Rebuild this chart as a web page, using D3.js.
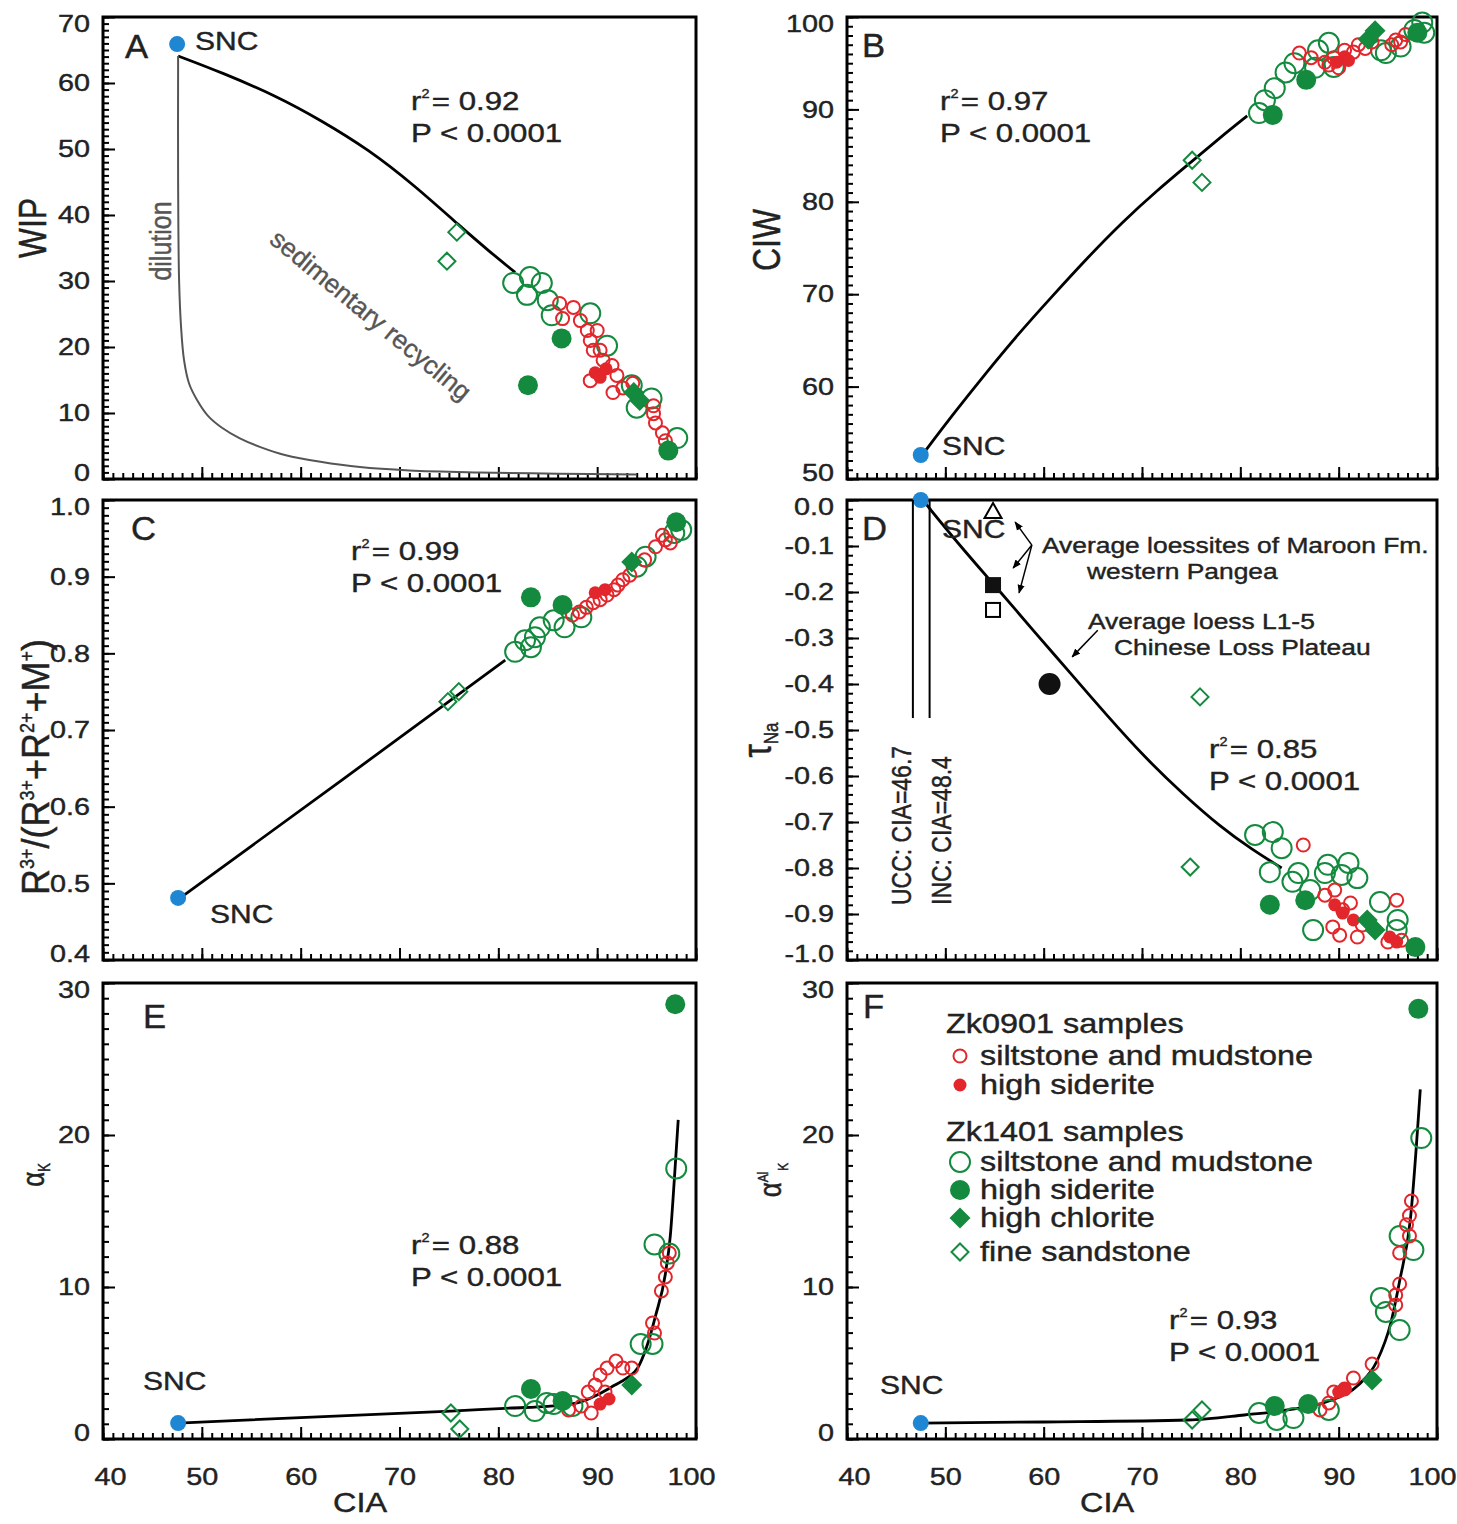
<!DOCTYPE html>
<html>
<head>
<meta charset="utf-8">
<script src="https://cdn.jsdelivr.net/npm/d3@7"></script>
<style>
  html, body { margin: 0; padding: 0; background: #fff; }
  svg { display: block; font-family: "Liberation Sans", Arial, sans-serif; }
</style>
</head>
<body>
<svg id="chart" width="1457" height="1524"></svg>
<script>
// ---- tick labels ----
const ciaTicks = [40, 50, 60, 70, 80, 90, 100];
const wipTicks = [0, 10, 20, 30, 40, 50, 60, 70];
const ciwTicks = [50, 60, 70, 80, 90, 100];
const ratioTicks = [0.4, 0.5, 0.6, 0.7, 0.8, 0.9, 1.0];
const tauTicks = [0, -0.1, -0.2, -0.3, -0.4, -0.5, -0.6, -0.7, -0.8, -0.9, -1.0];
const alphaTicks = [0, 10, 20, 30];

// ---- A: WIP vs CIA ----
const sncA = [47.5, 65.9];
const fitA = [[47.6, 64.1], [52, 61.6], [57.6, 58.0], [62, 54.4], [66.9, 49.9], [71.5, 44.5], [76.2, 38.2], [79, 34.6], [81.7, 31.3]];
const dilutionA = [[47.6, 64.1], [47.6, 45], [47.7, 30], [47.9, 23], [48.2, 18], [48.7, 14.5], [49.5, 12], [50.6, 9.6], [52, 7.8], [53.8, 6.2], [56, 4.8], [58.5, 3.6], [62, 2.6], [66, 1.8], [71, 1.3], [78, 1.0], [86, 0.8], [94, 0.7]];
const greenOpenA = [[81.5, 29.7], [83.2, 30.6], [82.9, 27.9], [84.4, 29.7], [85.0, 27.1], [85.4, 24.8], [89.3, 25.1], [91.0, 20.2], [93.5, 14.2], [94.0, 10.8], [95.5, 12.2], [98.1, 6.2]];
const redOpenA = [[86.2, 26.6], [87.6, 26.0], [86.5, 24.3], [88.3, 24.0], [89.0, 22.5], [90.0, 22.5], [89.3, 21.0], [89.6, 19.5], [90.3, 19.5], [90.6, 18.0], [91.5, 17.2], [92.0, 15.7], [91.6, 13.1], [92.6, 13.8], [93.6, 14.5], [89.3, 14.9], [95.7, 11.1], [95.7, 9.9], [95.9, 8.5], [96.6, 7.0], [96.9, 5.8]];
const redFillA = [[89.8, 16.1], [90.3, 15.4], [90.9, 16.7]];
const greenFillA = [[83.0, 14.2], [86.4, 21.3], [97.2, 4.3]];
const chloriteA = [[93.7, 13.1], [94.3, 11.9]];
const sandA = [[74.8, 33.0], [75.8, 37.4]];

// ---- B: CIW vs CIA ----
const sncB = [47.5, 52.6];
const fitB = [[47.5, 52.4], [51, 57.3], [54, 61.3], [57.5, 65.8], [60.8, 69.7], [64.5, 74.0], [68, 77.8], [71.5, 81.2], [75.1, 84.4], [78, 87.0], [80.7, 89.3]];
const greenOpenB = [[81.9, 89.6], [82.5, 91.0], [83.5, 92.3], [84.6, 94.0], [85.5, 95.0], [87.9, 96.4], [89.0, 97.2], [89.5, 94.6], [87.6, 94.5], [94.3, 96.4], [94.8, 96.1], [96.3, 96.8], [97.7, 98.6], [98.5, 99.4], [98.7, 98.3]];
const redOpenB = [[86.0, 96.1], [87.2, 95.6], [88.6, 95.1], [89.5, 95.6], [90.6, 96.4], [91.5, 96.2], [92.0, 97.0], [92.7, 96.6], [93.4, 97.3], [95.4, 97.0], [95.8, 97.5], [96.3, 97.3], [96.8, 98.1], [89.0, 94.8], [90.0, 94.5]];
const redFillB = [[89.8, 95.1], [90.6, 95.7], [91.0, 95.3]];
const greenFillB = [[83.3, 89.4], [86.7, 93.2], [98.0, 98.3]];
const chloriteB = [[93.0, 97.6], [93.7, 98.5]];
const sandB = [[75.1, 84.5], [76.1, 82.1]];

// ---- C: R3+/(R3+ + R2+ + M+) vs CIA ----
const sncC = [47.6, 0.481];
const fitC = [[47.6, 0.479], [64.2, 0.635], [80.7, 0.791]];
const greenOpenC = [[81.7, 0.802], [82.7, 0.817], [83.3, 0.808], [83.7, 0.821], [84.2, 0.834], [85.6, 0.843], [86.7, 0.834], [88.4, 0.847], [94.0, 0.913], [94.9, 0.926], [97.8, 0.957], [98.5, 0.961]];
const redOpenC = [[87.5, 0.850], [88.2, 0.854], [88.9, 0.860], [89.6, 0.866], [90.3, 0.870], [91.0, 0.876], [91.7, 0.883], [92.1, 0.889], [92.6, 0.896], [93.3, 0.902], [94.8, 0.922], [95.9, 0.939], [96.6, 0.954], [96.9, 0.948], [97.4, 0.944]];
const redFillC = [[89.8, 0.879], [90.8, 0.883]];
const greenFillC = [[83.3, 0.873], [86.5, 0.863], [98.0, 0.971]];
const chloriteC = [[93.5, 0.919]];
const sandC = [[74.9, 0.737], [76.0, 0.750]];

// ---- D: tau Na vs CIA ----
const sncD = [47.5, 0];
const fitD = [[47.7, 0], [51.5, -0.1], [55.2, -0.19], [59, -0.285], [62.7, -0.376], [66.5, -0.47], [70.3, -0.56], [74.2, -0.64], [78.0, -0.711], [81.2, -0.76], [84.2, -0.8]];
const greenOpenD = [[81.5, -0.728], [83.3, -0.722], [84.2, -0.757], [83.0, -0.809], [85.3, -0.830], [85.9, -0.811], [88.6, -0.811], [88.9, -0.793], [91.0, -0.789], [90.3, -0.815], [91.9, -0.822], [87.1, -0.848], [87.4, -0.935], [94.2, -0.874], [96.0, -0.913], [95.9, -0.935]];
const redOpenD = [[86.4, -0.750], [88.6, -0.859], [89.6, -0.848], [89.4, -0.928], [90.1, -0.946], [90.4, -0.891], [91.2, -0.876], [91.9, -0.950], [92.4, -0.924], [95.0, -0.961], [95.9, -0.870], [96.4, -0.957]];
const redFillD = [[89.6, -0.880], [90.4, -0.898], [91.5, -0.913], [95.2, -0.950], [95.9, -0.961]];
const greenFillD = [[83.0, -0.880], [86.6, -0.870], [97.8, -0.972]];
const chloriteD = [[92.9, -0.913], [93.7, -0.935]];
const sandD = [[74.9, -0.798], [75.9, -0.428]];
const maroonAvg = [[54.85, -0.026], [54.85, -0.185], [54.85, -0.239]]; // triangle, filled square, open square
const loessAvg = [60.6, -0.40];
const referenceCIA = [46.7, 48.4]; // UCC, INC
const referenceTauEnd = -0.474;

// ---- E: alpha K vs CIA ----
const sncE = [47.6, 1.05];
const fitE = [[47.6, 1.05], [75.2, 1.84], [81.4, 2.04], [85, 2.15], [88.0, 2.37], [90, 2.9], [91.8, 3.55], [93, 4.0], [94.1, 4.67], [95.0, 6.05], [95.9, 8.09], [96.9, 10.86], [97.4, 13.36], [97.8, 17.0], [98.2, 21.0]];
const greenOpenE = [[81.7, 2.17], [83.7, 1.84], [84.9, 2.37], [85.6, 2.30], [87.5, 2.17], [94.4, 6.25], [95.6, 6.25], [95.8, 12.8], [97.3, 12.2], [98.0, 17.8]];
const redOpenE = [[87.1, 1.91], [88.4, 2.17], [89.1, 3.09], [89.4, 1.71], [89.8, 3.55], [90.3, 4.21], [90.8, 3.09], [91.0, 4.67], [91.9, 5.13], [92.6, 4.67], [93.5, 4.67], [95.6, 7.63], [95.8, 6.97], [96.5, 9.74], [96.9, 10.66], [97.1, 11.58], [97.3, 12.24]];
const redFillE = [[90.3, 2.30], [91.2, 2.63]];
const greenFillE = [[83.3, 3.29], [86.5, 2.5], [97.9, 28.6]];
const chloriteE = [[93.5, 3.55]];
const sandE = [[75.2, 1.71], [76.1, 0.66]];

// ---- F: alpha Al K vs CIA ----
const sncF = [47.5, 1.05];
const fitF = [[47.5, 1.05], [60, 1.12], [74.7, 1.25], [80.4, 1.58], [84.8, 1.91], [89.0, 2.5], [92.0, 3.55], [93.9, 5.13], [95.3, 7.63], [96.2, 10.4], [97.3, 14.5], [98.3, 23.0]];
const greenOpenF = [[81.9, 1.71], [83.7, 1.25], [85.4, 1.38], [89.0, 1.91], [94.3, 9.28], [94.8, 8.36], [96.2, 7.17], [96.2, 13.36], [97.6, 12.43], [98.4, 19.8]];
const redOpenF = [[88.1, 1.91], [89.0, 2.37], [89.5, 3.09], [90.6, 3.29], [91.5, 4.01], [93.4, 4.93], [95.8, 8.82], [95.8, 9.47], [96.2, 10.2], [96.2, 12.24], [96.9, 14.1], [97.2, 13.36], [97.2, 14.7], [97.4, 15.66]];
const redFillF = [[90.0, 3.09], [90.6, 3.29]];
const greenFillF = [[83.5, 2.17], [86.9, 2.30], [98.1, 28.3]];
const chloriteF = [[93.4, 3.88]];
const sandF = [[75.1, 1.25], [76.1, 1.91]];

// ---- legend ----
const legendLabels = ["Zk0901 samples", "siltstone and mudstone", "high siderite", "Zk1401 samples", "siltstone and mudstone", "high siderite", "high chlorite", "fine sandstone"];
const legendSymbols = [null, "redOpen", "redFill", null, "greenOpen", "greenFill", "chlorite", "sand"];

// ---- look ----
const GREEN = "#138a3e", RED = "#e2262c", BLUE = "#1e86d2", INK = "#222", GREY = "#555";
const SX = 1.2; // the figure is drawn a bit wide
const cols = [{ left: 103, right: 696 }, { left: 847, right: 1437 }];
const rows = [{ top: 17, bottom: 479 }, { top: 500, bottom: 960 }, { top: 983, bottom: 1439 }];

const svg = d3.select("#chart");
svg.append("rect").attr("width", 1457).attr("height", 1524).attr("fill", "#fff");
svg.append("defs").append("marker")
    .attr("id", "arrowhead")
    .attr("viewBox", "0 0 10 10")
    .attr("refX", 9).attr("refY", 5)
    .attr("markerWidth", 6).attr("markerHeight", 6)
    .attr("orient", "auto")
    .append("path").attr("d", "M0,1L10,5L0,9z").attr("fill", "#000");

function label(g, x, y, size, parts, o = {}) {
    const fill = o.fill || INK;
    const t = g.append("text")
        .attr("transform", `translate(${x},${y}) scale(${o.sx ?? SX},1)` + (o.rotate ? ` rotate(${o.rotate})` : ""))
        .attr("font-size", size)
        .attr("fill", fill)
        .attr("stroke", fill).attr("stroke-width", 0.4)
        .attr("text-anchor", o.anchor || "start");
    [].concat(parts).forEach(p => {
        if (typeof p === "string") p = { t: p };
        const s = t.append("tspan").text(p.t);
        if (p.size) s.attr("font-size", p.size);
        if (p.dy) s.attr("dy", p.dy);
        if (p.dx) s.attr("dx", p.dx);
    });
    return t;
}

function styleAxis(sel) {
    sel.select(".domain").remove();
    sel.attr("font-family", null).attr("font-size", 24);
    sel.selectAll("line").attr("stroke", "#000").attr("stroke-width", 2);
    sel.selectAll("text")
        .attr("fill", INK)
        .attr("stroke", INK).attr("stroke-width", 0.4)
        .attr("transform", `scale(${SX},1)`)
        .attr("x", function() {
            const v = this.getAttribute("x");
            return v == null ? null : +v / SX;
        });
}

const diamond = s => `M0,${-s}L${s},0L0,${s}L${-s},0Z`;

function symbol(g, type, cx, cy) {
    if (type === "redOpen") g.append("circle").attr("cx", cx).attr("cy", cy).attr("r", 6.5).attr("fill", "none").attr("stroke", RED).attr("stroke-width", 2);
    if (type === "redFill") g.append("circle").attr("cx", cx).attr("cy", cy).attr("r", 6.5).attr("fill", RED);
    if (type === "greenOpen") g.append("circle").attr("cx", cx).attr("cy", cy).attr("r", 10).attr("fill", "none").attr("stroke", GREEN).attr("stroke-width", 2);
    if (type === "greenFill") g.append("circle").attr("cx", cx).attr("cy", cy).attr("r", 10).attr("fill", GREEN);
    if (type === "chlorite") g.append("path").attr("transform", `translate(${cx},${cy})`).attr("d", diamond(10.5)).attr("fill", GREEN);
    if (type === "sand") g.append("path").attr("transform", `translate(${cx},${cy})`).attr("d", diamond(8.5)).attr("fill", "none").attr("stroke", GREEN).attr("stroke-width", 2);
}

function r2Label(g, x, y, r2) {
    label(g, x, y, 26, [{ t: "r" }, { t: "2", size: 12, dy: -12 }, { t: "= " + r2, dy: 12, dx: 2 }]);
    label(g, x, y + 32, 26, "P < 0.0001");
}

const panels = [
    { key: "A", col: 0, row: 0, domain: [0, 70], ticks: wipTicks, minor: 1, fmt: d => d, curve: d3.curveBasis,
      snc: sncA, fit: fitA, greenOpen: greenOpenA, redOpen: redOpenA, redFill: redFillA, greenFill: greenFillA, chlorite: chloriteA, sand: sandA,
      letter: [125, 58], sncText: [195, 50], r2: "0.92", r2At: [411, 110] },
    { key: "B", col: 1, row: 0, domain: [50, 100], ticks: ciwTicks, minor: 1, fmt: d => d, curve: d3.curveBasis,
      snc: sncB, fit: fitB, greenOpen: greenOpenB, redOpen: redOpenB, redFill: redFillB, greenFill: greenFillB, chlorite: chloriteB, sand: sandB,
      letter: [862, 57], sncText: [942, 455], r2: "0.97", r2At: [940, 110] },
    { key: "C", col: 0, row: 1, domain: [0.4, 1.0], ticks: ratioTicks, minor: 0.01, fmt: d => d.toFixed(1), curve: d3.curveNatural,
      snc: sncC, fit: fitC, greenOpen: greenOpenC, redOpen: redOpenC, redFill: redFillC, greenFill: greenFillC, chlorite: chloriteC, sand: sandC,
      letter: [131, 540], sncText: [210, 923], r2: "0.99", r2At: [351, 560] },
    { key: "D", col: 1, row: 1, domain: [-1.0, 0], ticks: tauTicks, minor: 0.02, fmt: d => d.toFixed(1), curve: d3.curveBasis,
      snc: sncD, fit: fitD, greenOpen: greenOpenD, redOpen: redOpenD, redFill: redFillD, greenFill: greenFillD, chlorite: chloriteD, sand: sandD,
      letter: [862, 540], sncText: [942, 538], r2: "0.85", r2At: [1209, 758] },
    { key: "E", col: 0, row: 2, domain: [0, 30], ticks: alphaTicks, minor: 1, fmt: d => d, curve: d3.curveMonotoneX,
      snc: sncE, fit: fitE, greenOpen: greenOpenE, redOpen: redOpenE, redFill: redFillE, greenFill: greenFillE, chlorite: chloriteE, sand: sandE,
      letter: [143, 1028], sncText: [143, 1390], r2: "0.88", r2At: [411, 1254], xLabels: true },
    { key: "F", col: 1, row: 2, domain: [0, 30], ticks: alphaTicks, minor: 1, fmt: d => d, curve: d3.curveMonotoneX,
      snc: sncF, fit: fitF, greenOpen: greenOpenF, redOpen: redOpenF, redFill: redFillF, greenFill: greenFillF, chlorite: chloriteF, sand: sandF,
      letter: [863, 1018], sncText: [880, 1394], r2: "0.93", r2At: [1169, 1329], xLabels: true }
];

const scales = {};

panels.forEach(p => {
    const { left, right } = cols[p.col];
    const { top, bottom } = rows[p.row];
    const g = svg.append("g").attr("class", "panel panel-" + p.key);
    const x = d3.scaleLinear().domain([40, 100]).range([left, right]);
    const y = d3.scaleLinear().domain(p.domain).range([bottom, top]);
    scales[p.key] = { x, y, g };

    // bottom axis
    const xMinor = d3.range(40, 101, 1);
    g.append("g").attr("transform", `translate(0,${bottom})`)
        .call(d3.axisBottom(x).tickValues(xMinor).tickSize(-6).tickFormat(""))
        .call(styleAxis);
    const xa = g.append("g").attr("transform", `translate(0,${bottom})`)
        .call(d3.axisBottom(x).tickValues(ciaTicks).tickSize(-12).tickPadding(29).tickFormat(p.xLabels ? d => d : () => ""))
        .call(styleAxis);
    xa.selectAll(".tick text").each(function(d) {
        if (d === 40) d3.select(this).attr("x", 7 / SX);
        if (d === 100) d3.select(this).attr("x", -5 / SX);
    });

    // left axis
    const [d0, d1] = p.domain;
    const n = Math.round((d1 - d0) / p.minor);
    const yMinor = d3.range(n + 1).map(i => d0 + i * p.minor);
    g.append("g").attr("transform", `translate(${left},0)`)
        .call(d3.axisLeft(y).tickValues(yMinor).tickSize(-6).tickFormat(""))
        .call(styleAxis);
    const ya = g.append("g").attr("transform", `translate(${left},0)`)
        .call(d3.axisLeft(y).tickValues(p.ticks).tickSize(-12).tickPadding(13).tickFormat(p.fmt))
        .call(styleAxis);
    ya.selectAll(".tick text").each(function(d) {
        if (Math.abs(d - d1) < 1e-9) d3.select(this).attr("y", 7);
        if (Math.abs(d - d0) < 1e-9) d3.select(this).attr("y", -6);
    });

    // frame
    g.append("rect")
        .attr("x", left).attr("y", top)
        .attr("width", right - left).attr("height", bottom - top)
        .attr("fill", "none").attr("stroke", "#000").attr("stroke-width", 3);

    // fitted curve
    g.append("path").datum(p.fit)
        .attr("d", d3.line().x(d => x(d[0])).y(d => y(d[1])).curve(p.curve))
        .attr("fill", "none").attr("stroke", "#000").attr("stroke-width", 2.8);

    if (p.key === "A") {
        g.append("path").datum(dilutionA)
            .attr("d", d3.line().x(d => x(d[0])).y(d => y(d[1])).curve(d3.curveCatmullRom.alpha(0.5)))
            .attr("fill", "none").attr("stroke", GREY).attr("stroke-width", 2);
    }

    // samples
    const layers = [["greenOpen", p.greenOpen], ["redOpen", p.redOpen], ["redFill", p.redFill], ["greenFill", p.greenFill], ["chlorite", p.chlorite], ["sand", p.sand]];
    layers.forEach(([type, pts]) => {
        const lg = g.append("g").attr("class", type);
        pts.forEach(d => symbol(lg, type, x(d[0]), y(d[1])));
    });

    // source composition
    g.append("circle").attr("cx", x(p.snc[0])).attr("cy", y(p.snc[1])).attr("r", 8).attr("fill", BLUE);
    label(g, p.sncText[0], p.sncText[1], 25, "SNC");
    label(g, p.letter[0], p.letter[1], 33, p.key, { sx: 1.05 });
    r2Label(g, p.r2At[0], p.r2At[1], p.r2);
});

// ---- panel A annotations ----
{
    const g = scales.A.g;
    label(g, 171, 241, 25, "dilution", { rotate: -90, anchor: "middle", fill: GREY });
    g.append("text")
        .attr("transform", "translate(371,315) rotate(39.5)")
        .attr("font-size", 26).attr("fill", GREY).attr("stroke", GREY).attr("stroke-width", 0.4)
        .attr("text-anchor", "middle").attr("dy", "0.35em")
        .text("sedimentary recycling");
}

// ---- panel D annotations ----
{
    const { x, y, g } = scales.D;
    referenceCIA.forEach(c => {
        g.append("line")
            .attr("x1", x(c)).attr("x2", x(c))
            .attr("y1", y(0)).attr("y2", y(referenceTauEnd))
            .attr("stroke", "#000").attr("stroke-width", 2);
    });
    label(g, 911, 905, 23, "UCC: CIA=46.7", { rotate: -90 });
    label(g, 951, 905, 23, "INC: CIA=48.4", { rotate: -90 });

    const [tri, sqFill, sqOpen] = maroonAvg;
    g.append("path").attr("transform", `translate(${x(tri[0])},${y(tri[1])})`)
        .attr("d", "M0,-9L8.5,6L-8.5,6Z").attr("fill", "#fff").attr("stroke", "#000").attr("stroke-width", 2);
    g.append("rect").attr("x", x(sqFill[0]) - 8).attr("y", y(sqFill[1]) - 8).attr("width", 16).attr("height", 16).attr("fill", "#111");
    g.append("rect").attr("x", x(sqOpen[0]) - 7).attr("y", y(sqOpen[1]) - 7).attr("width", 14).attr("height", 14)
        .attr("fill", "#fff").attr("stroke", "#000").attr("stroke-width", 2);
    g.append("circle").attr("cx", x(loessAvg[0])).attr("cy", y(loessAvg[1])).attr("r", 11).attr("fill", "#111");

    const arrow = (a, b) => g.append("line")
        .attr("x1", x(a[0])).attr("y1", y(a[1])).attr("x2", x(b[0])).attr("y2", y(b[1]))
        .attr("stroke", "#000").attr("stroke-width", 1.5).attr("marker-end", "url(#arrowhead)");
    const hub = [58.8, -0.098];
    arrow(hub, [57.1, -0.048]);
    arrow(hub, [56.9, -0.148]);
    arrow(hub, [57.5, -0.202]);
    arrow([65.5, -0.283], [62.9, -0.341]);

    label(g, 1042, 553, 22, "Average loessites of Maroon Fm.");
    label(g, 1087, 579, 22, "western Pangea");
    label(g, 1088, 629, 22, "Average loess L1-5");
    label(g, 1114, 655, 22, "Chinese Loss Plateau");
}

// ---- panel F legend ----
{
    const g = scales.F.g;
    const baselines = [1033, 1065, 1094, 1141, 1171, 1199, 1227, 1261];
    legendLabels.forEach((t, i) => {
        const s = legendSymbols[i];
        if (s) {
            symbol(g, s, 960, baselines[i] - 9);
            label(g, 980, baselines[i], 27, t);
        } else {
            label(g, 946, baselines[i], 27, t);
        }
    });
}

// ---- axis titles ----
label(svg, 46, 228, 32, "WIP", { rotate: -90, anchor: "middle" });
label(svg, 780, 240, 32, "CIW", { rotate: -90, anchor: "middle" });
label(svg, 49, 767, 36, [
    "R", { t: "3+", size: 18, dy: -14 }, { t: "/(R", dy: 14 }, { t: "3+", size: 18, dy: -14 },
    { t: "+R", dy: 14 }, { t: "2+", size: 18, dy: -14 }, { t: "+M", dy: 14 }, { t: "+", size: 18, dy: -14 }, { t: ")", dy: 14 }
], { rotate: -90, anchor: "middle", sx: 1.1 });
label(svg, 771, 740, 34, ["τ", { t: "Na", size: 17, dy: 6 }], { rotate: -90, anchor: "middle" });
label(svg, 44, 1175, 26, ["α", { t: "K", size: 13, dy: 5 }], { rotate: -90, anchor: "middle" });
label(svg, 781, 1180, 26, ["α", { t: "Al", size: 12, dy: -11 }, { t: "K", size: 12, dy: 17, dx: 1 }], { rotate: -90, anchor: "middle" });
label(svg, 360, 1512, 27, "CIA", { anchor: "middle" });
label(svg, 1107, 1512, 27, "CIA", { anchor: "middle" });
</script>
</body>
</html>
